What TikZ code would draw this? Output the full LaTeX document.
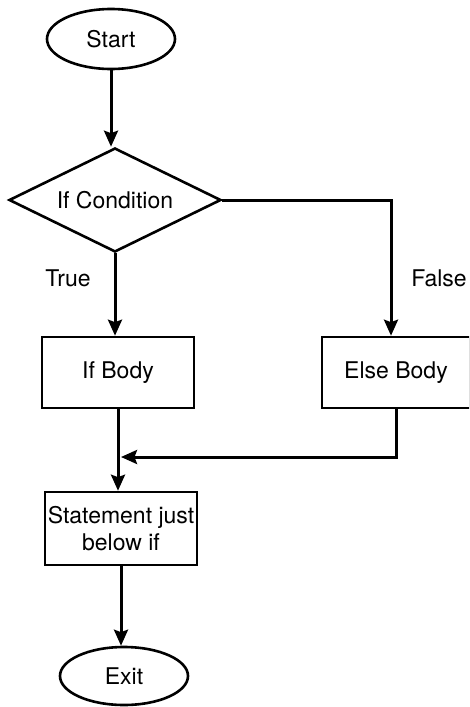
\documentclass[tikz,border=0pt]{standalone}
\usepackage{fontspec}
\setmainfont{TeX Gyre Heros}
\usetikzlibrary{shapes.geometric,arrows.meta}

\begin{document}
\begin{tikzpicture}[x=1pt,y=1pt,
  every node/.style={font=\fontsize{23}{26.5}\selectfont},
  term/.style={ellipse,draw,line width=2.6pt,inner sep=0pt},
  decide/.style={diamond,draw,line width=2.6pt,inner sep=0pt,aspect=2.04,
                 minimum width=212pt,minimum height=104pt},
  proc/.style={rectangle,draw,line width=2.6pt,inner sep=0pt,align=center},
  arr/.style={line width=3pt,-{Stealth[length=16pt,width=14pt,inset=2.5pt]}},
  lbl/.style={inner sep=0pt}]
  % page frame
  \useasboundingbox (0,0) rectangle (469,-707);
  \clip (0,0) rectangle (469,-707);

  % shapes
  \node[term,minimum width=128pt,minimum height=60pt] (start) at (111,-39) {Start};
  \node[decide] (cond) at (115,-200) {If Condition};
  \node[proc,minimum width=152pt,minimum height=71pt] (ifbody) at (118,-372.5) {If Body};
  \node[proc,minimum width=148pt,minimum height=71pt] (elsebody) at (396,-372.5) {Else Body};
  \node[proc,minimum width=152pt,minimum height=73pt] (stmt) at (121,-528.5)
       {Statement just\\below if};
  \node[term,minimum width=128pt,minimum height=58pt] (exit) at (124,-676) {Exit};

  % branch labels
  \node[lbl] (truelbl) at (68,-278) {True};
  \node[lbl] (falselbl) at (439,-278) {False};

  % connectors
  \coordinate (falsedrop) at ([xshift=-5pt]elsebody.north);
  \coordinate (join) at (121,-457);
  \draw[arr] (start.south) -- (start.south |- cond.north);
  \draw[arr] (cond.south) -- (cond.south |- ifbody.north);
  \draw[arr] (cond.east) -| (falsedrop);
  \draw[arr] (ifbody.south) -- (ifbody.south |- stmt.north);
  \draw[arr] (elsebody.south) |- (join);
  \draw[arr] (stmt.south) -- (stmt.south |- exit.north);
\end{tikzpicture}
\end{document}
